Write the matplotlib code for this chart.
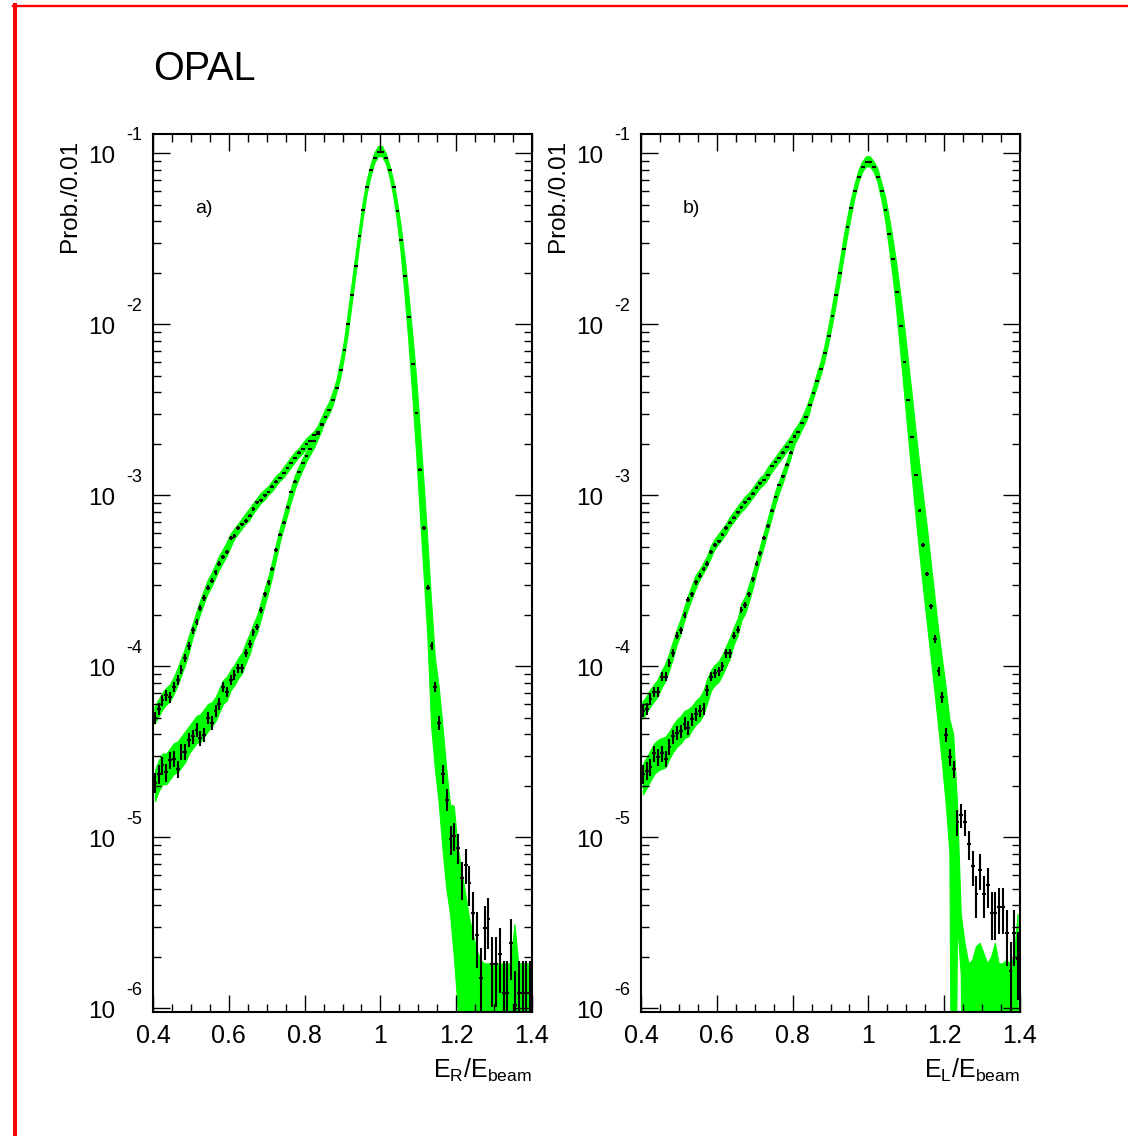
import numpy as np
import matplotlib
matplotlib.use("Agg")
import matplotlib.pyplot as plt
import matplotlib.transforms as mtransforms
from matplotlib.lines import Line2D
from matplotlib.ticker import MultipleLocator, LogLocator, NullFormatter

plt.rcParams['font.family'] = ['Liberation Sans', 'DejaVu Sans']
plt.rcParams['mathtext.fontset'] = 'custom'
plt.rcParams['mathtext.rm'] = 'Liberation Sans'
plt.rcParams['mathtext.it'] = 'Liberation Sans'

# binning: 0.01 wide bins starting at 0.40
bin_lo = 0.40
bin_w = 0.01
n_events = 2.8e6          # sets the size of the statistical error bars
x_ticks = [0.4, 0.6, 0.8, 1.0, 1.2, 1.4]
x_ticklabels = ["0.4", "0.6", "0.8", "1", "1.2", "1.4"]
decades = [-6, -5, -4, -3, -2, -1]

# all values below are log10(Prob./0.01)
# ---- panel a) E_R/E_beam ----
a_wide = [-4.30, -4.25, -4.20, -4.17, -4.18, -4.12, -4.08, -4.02, -3.95, -3.88,
          -3.79, -3.74, -3.66, -3.60, -3.54, -3.50, -3.45, -3.40, -3.36, -3.33,
          -3.25, -3.24, -3.19, -3.17, -3.15, -3.12, -3.08, -3.04, -3.03, -3.00,
          -2.98, -2.95, -2.92, -2.90, -2.87, -2.84, -2.81, -2.78, -2.75, -2.73,
          -2.70, -2.68, -2.65, -2.63, -2.585, -2.54, -2.50, -2.44, -2.37, -2.27,
          -2.15, -2.00, -1.83, -1.66, -1.485, -1.33, -1.20, -1.10, -1.03, -0.99,
          -0.99, -1.03, -1.10, -1.20, -1.34, -1.51, -1.72, -1.96, -2.23, -2.52,
          -2.85, -3.19, -3.54, -3.88, -4.12, -4.33, -4.63, -4.78, -5.01, -4.99,
          -5.06, -5.24, -5.16, -5.27, -5.44, -5.57, -5.82, -5.53, -5.48, -5.74,
          -5.74, -5.68, -5.91, -5.91, -5.62, -5.98, -5.91, -5.91, -5.91, -5.91]
a_wide_lo = [-4.34, -4.30, -4.26, -4.23, -4.21, -4.17, -4.12, -4.06, -4.00, -3.93,
             -3.84, -3.77, -3.70, -3.64, -3.58, -3.54, -3.49, -3.44, -3.40, -3.36,
             -3.31, -3.26, -3.23, -3.20, -3.17, -3.15, -3.11, -3.08, -3.05, -3.03,
             -3.00, -2.98, -2.95, -2.92, -2.90, -2.87, -2.84, -2.81, -2.78, -2.76,
             -2.73, -2.71, -2.68, -2.65, -2.62, -2.57, -2.53, -2.48, -2.40, -2.32,
             -2.20, -2.06, -1.89, -1.72, -1.54, -1.38, -1.24, -1.14, -1.06, -1.02,
             -1.02, -1.06, -1.14, -1.25, -1.40, -1.59, -1.83, -2.10, -2.41, -2.74,
             -3.10, -3.46, -3.82, -4.35, -4.60, -4.80, -5.07, -5.30, -5.45, -5.70,
             -6.00, -9, -9, -9, -9, -9, -9, -9, -9, -9,
             -9, -9, -9, -9, -9, -9, -9, -9, -9, -9]
a_wide_hi = [-4.24, -4.20, -4.16, -4.13, -4.11, -4.07, -4.02, -3.96, -3.90, -3.83,
             -3.76, -3.69, -3.62, -3.56, -3.50, -3.46, -3.41, -3.36, -3.32, -3.28,
             -3.23, -3.20, -3.17, -3.14, -3.11, -3.08, -3.05, -3.02, -2.99, -2.97,
             -2.95, -2.92, -2.89, -2.87, -2.84, -2.81, -2.78, -2.75, -2.73, -2.70,
             -2.67, -2.65, -2.63, -2.60, -2.55, -2.50, -2.46, -2.40, -2.33, -2.22,
             -2.10, -1.94, -1.77, -1.60, -1.44, -1.28, -1.16, -1.07, -1.00, -0.96,
             -0.96, -1.00, -1.07, -1.16, -1.28, -1.43, -1.61, -1.82, -2.05, -2.30,
             -2.60, -2.92, -3.26, -3.62, -3.95, -4.12, -4.35, -4.60, -4.81, -4.82,
             -5.06, -5.20, -5.33, -5.47, -5.57, -5.66, -5.72, -5.74, -5.74, -5.74,
             -5.74, -5.74, -5.74, -5.74, -5.74, -5.51, -5.74, -5.74, -5.74, -5.74]
a_narrow = [-4.68, -4.63, -4.58, -4.62, -4.55, -4.54, -4.60, -4.50, -4.50, -4.43,
            -4.41, -4.37, -4.42, -4.40, -4.30, -4.33, -4.26, -4.22, -4.12, -4.15,
            -4.08, -4.05, -4.01, -4.01, -3.92, -3.87, -3.80, -3.77, -3.67, -3.58,
            -3.51, -3.43, -3.32, -3.23, -3.16, -3.07, -2.98, -2.92, -2.865, -2.81,
            -2.77, -2.73, -2.68, -2.64, -2.59]
a_narrow_lo = [-4.79, -4.73, -4.69, -4.69, -4.66, -4.63, -4.62, -4.59, -4.56, -4.51,
               -4.48, -4.45, -4.44, -4.41, -4.38, -4.35, -4.32, -4.27, -4.22, -4.20,
               -4.14, -4.11, -4.07, -4.04, -3.98, -3.93, -3.85, -3.80, -3.72, -3.64,
               -3.56, -3.47, -3.37, -3.27, -3.19, -3.11, -3.03, -2.96, -2.90, -2.85,
               -2.80, -2.76, -2.72, -2.67, -2.62]
a_narrow_hi = [-4.61, -4.55, -4.51, -4.51, -4.48, -4.45, -4.44, -4.41, -4.38, -4.35,
               -4.32, -4.29, -4.28, -4.25, -4.22, -4.21, -4.18, -4.13, -4.08, -4.06,
               -4.02, -3.99, -3.95, -3.92, -3.86, -3.81, -3.75, -3.70, -3.62, -3.54,
               -3.47, -3.38, -3.28, -3.19, -3.11, -3.03, -2.95, -2.88, -2.83, -2.78,
               -2.74, -2.70, -2.65, -2.61, -2.56]

# ---- panel b) E_L/E_beam ----
b_wide = [-4.26, -4.25, -4.19, -4.15, -4.15, -4.06, -4.06, -3.98, -3.92, -3.82,
          -3.79, -3.70, -3.61, -3.58, -3.51, -3.47, -3.43, -3.40, -3.33, -3.29,
          -3.27, -3.23, -3.19, -3.16, -3.13, -3.10, -3.07, -3.04, -3.02, -2.99,
          -2.955, -2.93, -2.91, -2.88, -2.83, -2.805, -2.78, -2.75, -2.72, -2.69,
          -2.655, -2.63, -2.58, -2.54, -2.47, -2.40, -2.33, -2.26, -2.17, -2.07,
          -1.95, -1.83, -1.70, -1.56, -1.43, -1.32, -1.22, -1.14, -1.08, -1.05,
          -1.05, -1.08, -1.14, -1.22, -1.33, -1.47, -1.62, -1.81, -2.01, -2.22,
          -2.44, -2.66, -2.88, -3.09, -3.29, -3.46, -3.65, -3.84, -4.03, -4.18,
          -4.40, -4.53, -4.60, -4.91, -4.87, -4.91, -5.04, -5.17, -5.33, -5.19,
          -5.33, -5.28, -5.44, -5.44, -5.41, -5.41, -5.56, -5.78, -5.56, -5.71]
b_wide_lo = [-4.31, -4.28, -4.24, -4.21, -4.18, -4.13, -4.09, -4.03, -3.96, -3.88,
             -3.82, -3.74, -3.67, -3.61, -3.55, -3.50, -3.46, -3.42, -3.37, -3.32,
             -3.29, -3.26, -3.23, -3.19, -3.16, -3.13, -3.10, -3.08, -3.05, -3.02,
             -2.99, -2.96, -2.94, -2.91, -2.87, -2.84, -2.81, -2.78, -2.75, -2.72,
             -2.69, -2.66, -2.61, -2.57, -2.51, -2.44, -2.37, -2.30, -2.22, -2.12,
             -2.01, -1.89, -1.76, -1.62, -1.49, -1.37, -1.26, -1.17, -1.11, -1.08,
             -1.08, -1.11, -1.17, -1.27, -1.39, -1.55, -1.72, -1.93, -2.16, -2.40,
             -2.64, -2.88, -3.11, -3.33, -3.54, -3.74, -3.94, -4.14, -4.35, -4.56,
             -4.80, -5.09, -9, -5.50, -5.80, -9, -9, -9, -9, -9,
             -9, -9, -9, -9, -9, -9, -9, -9, -9, -9]
b_wide_hi = [-4.21, -4.18, -4.14, -4.11, -4.08, -4.03, -3.99, -3.93, -3.86, -3.79,
             -3.73, -3.66, -3.59, -3.53, -3.47, -3.44, -3.40, -3.36, -3.30, -3.26,
             -3.23, -3.20, -3.17, -3.13, -3.10, -3.07, -3.04, -3.01, -2.99, -2.96,
             -2.93, -2.90, -2.88, -2.84, -2.81, -2.78, -2.75, -2.72, -2.69, -2.66,
             -2.62, -2.59, -2.55, -2.50, -2.44, -2.37, -2.29, -2.22, -2.13, -2.02,
             -1.90, -1.77, -1.64, -1.50, -1.38, -1.27, -1.18, -1.10, -1.05, -1.02,
             -1.02, -1.05, -1.09, -1.17, -1.25, -1.37, -1.50, -1.65, -1.82, -2.00,
             -2.20, -2.40, -2.61, -2.81, -3.00, -3.18, -3.38, -3.58, -3.78, -3.95,
             -4.12, -4.31, -4.40, -4.80, -5.45, -5.62, -5.74, -5.72, -5.64, -5.62,
             -5.68, -5.74, -5.70, -5.62, -5.74, -5.74, -5.72, -5.74, -5.70, -5.45]
b_narrow = [-4.63, -4.61, -4.59, -4.51, -4.53, -4.51, -4.54, -4.47, -4.41, -4.39,
            -4.38, -4.335, -4.36, -4.31, -4.28, -4.26, -4.25, -4.14, -4.06, -4.04,
            -4.03, -4.00, -3.925, -3.925, -3.82, -3.785, -3.67, -3.64, -3.58, -3.49,
            -3.40, -3.34, -3.25, -3.18, -3.09, -3.01, -2.94, -2.89, -2.82, -2.75,
            -2.66, -2.63, -2.58, -2.54, -2.47]
b_narrow_lo = [-4.75, -4.71, -4.67, -4.63, -4.61, -4.60, -4.59, -4.54, -4.50, -4.47,
               -4.45, -4.42, -4.41, -4.37, -4.34, -4.32, -4.28, -4.21, -4.14, -4.11,
               -4.09, -4.05, -4.00, -3.95, -3.87, -3.82, -3.73, -3.69, -3.62, -3.54,
               -3.45, -3.37, -3.29, -3.21, -3.13, -3.05, -2.98, -2.92, -2.85, -2.78,
               -2.70, -2.66, -2.61, -2.57, -2.51]
b_narrow_hi = [-4.57, -4.53, -4.49, -4.45, -4.43, -4.42, -4.41, -4.38, -4.34, -4.31,
               -4.29, -4.26, -4.25, -4.23, -4.20, -4.18, -4.14, -4.07, -4.02, -3.99,
               -3.97, -3.93, -3.88, -3.83, -3.77, -3.72, -3.63, -3.59, -3.52, -3.45,
               -3.37, -3.29, -3.21, -3.13, -3.05, -2.97, -2.91, -2.85, -2.79, -2.72,
               -2.64, -2.60, -2.55, -2.50, -2.44]

W, H = 1128, 1136
GREEN = '#00ff00'


def centers(n):
    return bin_lo + bin_w * (np.arange(n) + 0.5)


def draw_panel(ax, curves, tag, xtitle):
    # MC bands first, data on top
    for data, lo, hi in curves:
        x = centers(len(lo))
        ax.fill_between(x, 10.0 ** np.array(lo), 10.0 ** np.array(hi),
                        facecolor=GREEN, edgecolor=GREEN, lw=0.8, zorder=1)
    for data, lo, hi in curves:
        v = 10.0 ** np.array(data)
        x = centers(len(v))
        err = np.sqrt(v / n_events)
        low = np.minimum(err, v * 0.999)
        ax.errorbar(x, v, xerr=bin_w / 2, yerr=[low, err], fmt='none',
                    ecolor='black', elinewidth=1.5, capsize=0, zorder=3)

    ax.set_yscale('log')
    ax.set_xlim(0.4, 1.4)
    ax.set_ylim(10 ** -6.02, 10 ** -0.889)
    ax.set_xticks(x_ticks, x_ticklabels)
    ax.xaxis.set_minor_locator(MultipleLocator(0.05))
    ax.yaxis.set_major_locator(LogLocator(base=10, numticks=20))
    ax.yaxis.set_minor_locator(LogLocator(base=10, subs=np.arange(2, 10), numticks=20))
    ax.yaxis.set_major_formatter(NullFormatter())
    ax.yaxis.set_minor_formatter(NullFormatter())
    ax.tick_params(which='major', direction='in', length=12, width=1,
                   top=True, right=True, labelsize=18, pad=8.5)
    ax.tick_params(which='minor', direction='in', length=6, width=1,
                   top=True, right=True)
    for s in ax.spines.values():
        s.set_linewidth(1.5)

    # ROOT style 10^k labels
    for k in decades:
        t10 = mtransforms.offset_copy(ax.get_yaxis_transform(), fig=fig,
                                      x=-38, y=-10, units='dots')
        ax.text(0, 10.0 ** k, "10", transform=t10, ha='right', va='baseline',
                fontsize=17.5)
        tex = mtransforms.offset_copy(ax.get_yaxis_transform(), fig=fig,
                                      x=-27, y=13, units='dots')
        ax.text(0, 10.0 ** k, str(k), transform=tex, ha='left', va='baseline',
                fontsize=13)

    ax.text(0.111, 0.910, tag, transform=ax.transAxes, fontsize=14,
            ha='left', va='baseline')
    ax.text(1.0, -0.0759, xtitle, transform=ax.transAxes, fontsize=18,
            ha='right', va='baseline')


fig = plt.figure(figsize=(W / 100, H / 100), dpi=100)
ax_h = (1011.7 - 134.3) / H
ax_a = fig.add_axes([153 / W, 1 - 1011.7 / H, 379 / W, ax_h])
ax_b = fig.add_axes([641 / W, 1 - 1011.7 / H, 379 / W, ax_h])

draw_panel(ax_a, [(a_wide, a_wide_lo, a_wide_hi), (a_narrow, a_narrow_lo, a_narrow_hi)],
           'a)', r'$\mathrm{E_{R}/E_{beam}}$')
draw_panel(ax_b, [(b_wide, b_wide_lo, b_wide_hi), (b_narrow, b_narrow_lo, b_narrow_hi)],
           'b)', r'$\mathrm{E_{L}/E_{beam}}$')

fig.text(70 / W, 1 - 140 / H, 'Prob./0.01', rotation=90, ha='center', va='top', fontsize=17.5)
fig.text(558 / W, 1 - 140 / H, 'Prob./0.01', rotation=90, ha='center', va='top', fontsize=17.5)
fig.text(153 / W, 1 - 80 / H, 'OPAL', ha='left', va='baseline', fontsize=28.5)

# red frame (left and top edges)
fig.add_artist(Line2D([14.7 / W, 14.7 / W], [0, 1 - 5 / H], color='red', lw=2.9,
                      transform=fig.transFigure))
fig.add_artist(Line2D([12.7 / W, 1], [1 - 6.2 / H, 1 - 6.2 / H], color='red', lw=1.7,
                      transform=fig.transFigure))

fig.savefig('out.png', dpi=100)
